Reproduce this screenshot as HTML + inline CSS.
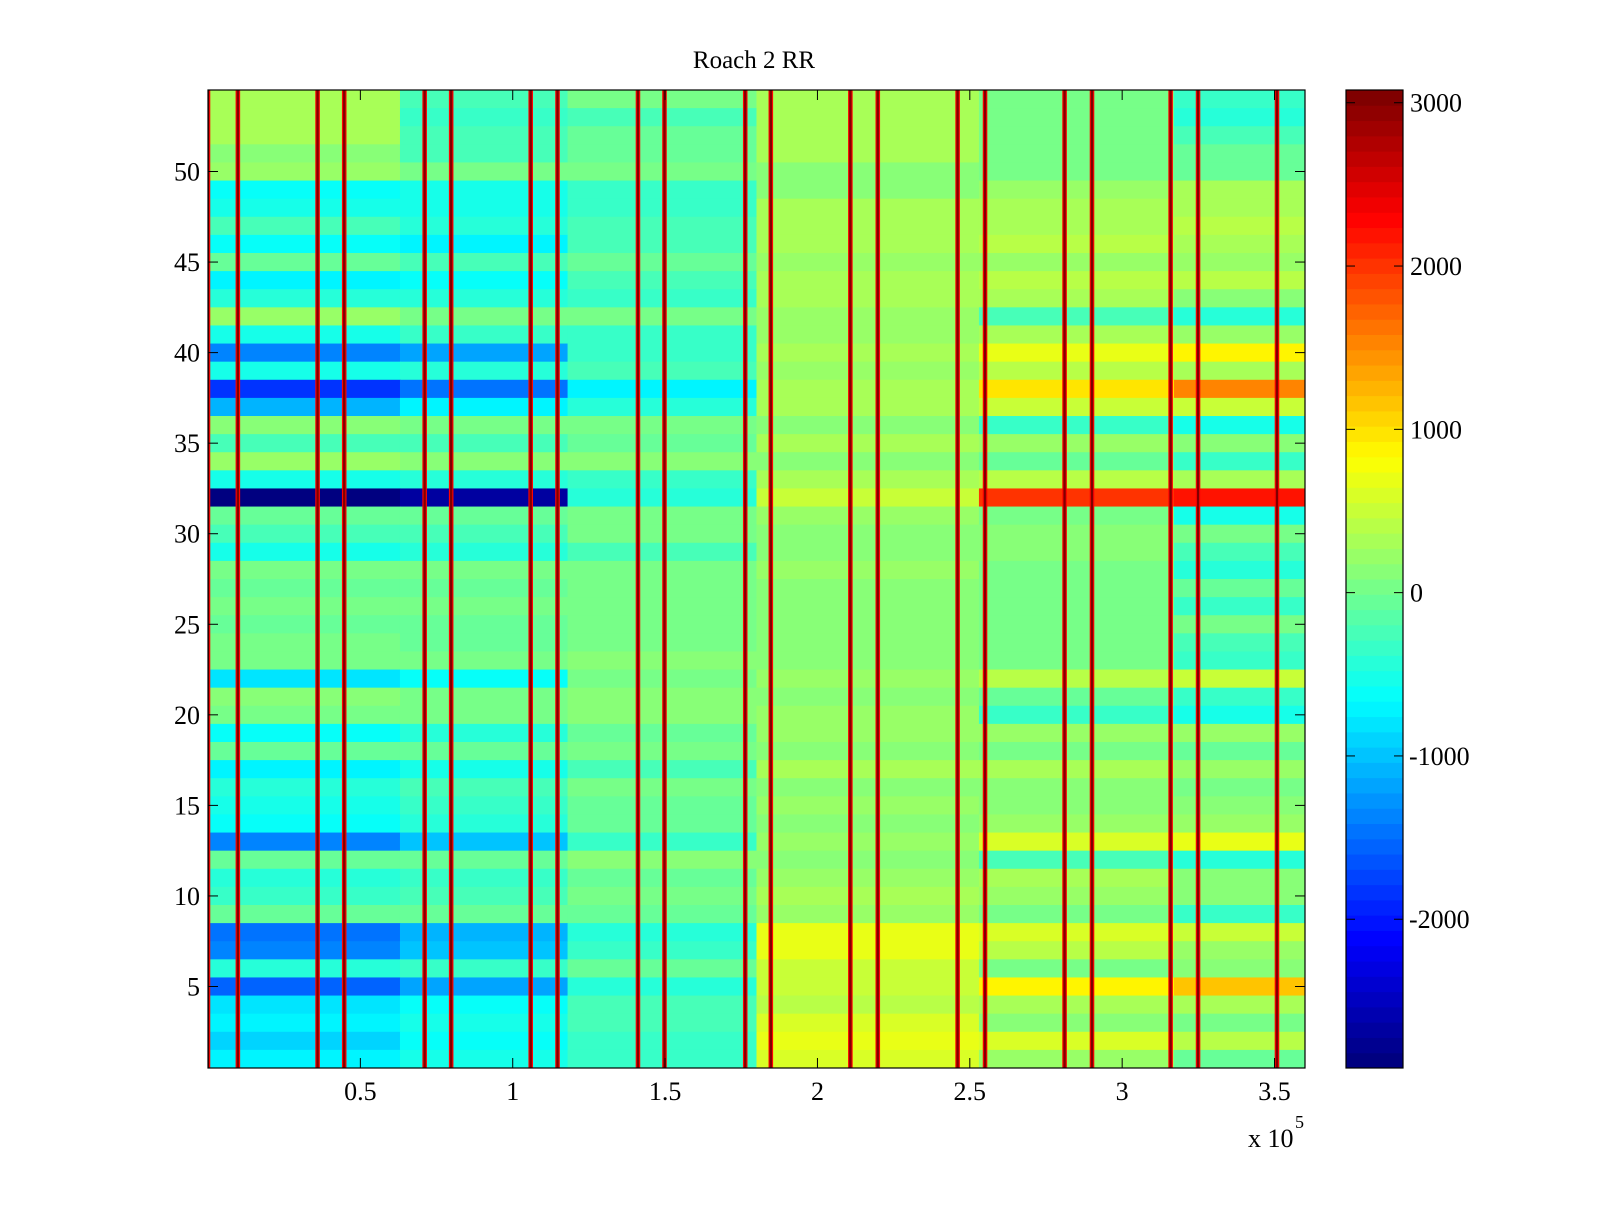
<!DOCTYPE html>
<html><head><meta charset="utf-8"><style>
html,body{margin:0;padding:0;background:#fff;}
svg text{font-family:"Liberation Serif",serif;fill:#000;}
</style></head><body>
<svg id="fig" width="1600" height="1200" xmlns="http://www.w3.org/2000/svg">
<rect width="1600" height="1200" fill="#fff"/>
<text x="754" y="68" font-size="25" text-anchor="middle">Roach 2 RR</text>
<g id="heat"></g>
<g id="spikes"></g>
<g id="axes"></g>
<g id="cbar"></g>
</svg>
<script>
// x segment boundaries (samples)
const segEdges = [0, 63000, 118000, 180000, 253000, 317000, 360000];
// row values per segment, rows 54 (top) ... 1 (bottom)
const rowValues = [
[300,-200,0,300,0,-300],
[300,-300,-200,300,0,-400],
[300,-200,-100,300,0,-200],
[100,-200,-100,300,0,-100],
[250,0,0,100,0,-100],
[-600,-500,-300,100,200,300],
[-500,-500,-300,300,300,300],
[-200,-400,-200,300,300,400],
[-600,-700,-200,300,400,300],
[-100,-200,-100,200,200,200],
[-700,-600,-200,300,400,400],
[-400,-400,-300,300,300,100],
[200,0,0,200,-200,-400],
[-500,-300,-300,200,300,200],
[-1400,-1200,-300,300,700,900],
[-500,-400,-200,200,400,300],
[-1800,-1500,-700,300,1000,1500],
[-1100,-700,-400,300,500,500],
[100,0,0,100,-300,-500],
[-200,-200,-100,300,200,100],
[200,100,100,100,-100,-300],
[-500,-400,-300,300,400,300],
[-2900,-2700,-400,500,2000,2200],
[-100,-100,0,200,0,-500],
[-200,-200,0,100,100,0],
[-500,-400,-200,100,100,-200],
[0,0,0,200,0,-400],
[-100,-100,0,100,0,-100],
[0,0,0,100,0,-300],
[-100,-100,0,100,0,0],
[0,-100,0,100,0,-200],
[0,0,100,100,0,-300],
[-800,-600,0,200,400,500],
[100,0,100,100,-100,-300],
[0,0,100,200,-300,-500],
[-600,-400,-100,200,200,200],
[-100,-100,0,100,0,-100],
[-700,-500,-200,300,300,200],
[-400,-200,0,100,100,0],
[-500,-300,-100,200,100,100],
[-600,-400,-100,100,200,200],
[-1400,-1000,-300,200,600,700],
[-100,-100,100,100,-200,-400],
[-400,-300,-100,200,300,100],
[-300,-200,0,300,200,100],
[-100,-100,-100,200,0,-300],
[-1500,-1100,-400,700,600,500],
[-1400,-1000,-300,700,400,200],
[-400,-300,-100,500,0,100],
[-1600,-1200,-400,500,900,1200],
[-800,-600,-200,400,300,300],
[-700,-500,-200,600,100,0],
[-900,-600,-300,700,600,400],
[-700,-500,-300,600,200,-100]
];
// spike columns (sample index)
const spikeX = [0,9800,35960,44700,71100,79800,105900,114700,141100,149800,176300,184700,210800,219800,246000,255000,281100,290100,315900,324900,350800];
const spikeCore = 3000, spikeEdge = 2300;
const xTicks = [50000,100000,150000,200000,250000,300000,350000];
const xTickLabels = ["0.5","1","1.5","2","2.5","3","3.5"];
const yTicks = [5,10,15,20,25,30,35,40,45,50];
const cTicks = [3000,2000,1000,0,-1000,-2000];
const cMin = -2911, cMax = 3078;

const L=208,R=1305,T=90,B=1068;
const xMin=0,xMax=360000,yMin=0.5,yMax=54.5;
const sx=v=>L+(v-xMin)/(xMax-xMin)*(R-L);
const sy=v=>B-(v-yMin)/(yMax-yMin)*(B-T);
function jet(t){
  t=Math.max(0,Math.min(1,t));
  t=Math.min(63,Math.floor(t*64))/63;
  const f=x=>Math.max(0,Math.min(1,x));
  const r=f(Math.min(4*t-1.5,-4*t+4.5)),g=f(Math.min(4*t-0.5,-4*t+3.5)),b=f(Math.min(4*t+0.5,-4*t+2.5));
  return `rgb(${Math.round(r*255)},${Math.round(g*255)},${Math.round(b*255)})`;
}
const cv=v=>jet((v-cMin)/(cMax-cMin));
const NS="http://www.w3.org/2000/svg";
function mk(tag,attrs,parent){const e=document.createElementNS(NS,tag);for(const k in attrs)e.setAttribute(k,attrs[k]);parent.appendChild(e);return e;}

const heat=document.getElementById('heat');
rowValues.forEach((vals,i)=>{
  const row=54-i;
  vals.forEach((v,s)=>{
    const x0=sx(segEdges[s]),x1=sx(segEdges[s+1]);
    const el=mk('rect',{x:x0,y:sy(row+0.5),width:x1-x0+0.5,height:sy(row-0.5)-sy(row+0.5)+0.5,fill:cv(v)},heat);
    
    
  });
});
const sp=document.getElementById('spikes');
spikeX.forEach(x=>{
  const a=Math.max(L,sx(x-750)),b=Math.min(R,sx(x+750));
  const e1=mk('rect',{x:a,y:T,width:b-a,height:B-T,fill:cv(spikeEdge)},sp);
  
  
  const c=Math.max(L,sx(x-380)),d=Math.min(R,sx(x+380));
  const e2=mk('rect',{x:c,y:T,width:d-c,height:B-T,fill:cv(spikeCore)},sp);
  
  
});
const ax=document.getElementById('axes');
mk('rect',{x:L,y:T,width:R-L,height:B-T,fill:'none',stroke:'#000','stroke-width':1.2},ax);
xTicks.forEach((v,i)=>{
  const x=sx(v);
  mk('line',{x1:x,y1:B,x2:x,y2:B-10,stroke:'#000'},ax);
  mk('line',{x1:x,y1:T,x2:x,y2:T+10,stroke:'#000'},ax);
  const t=mk('text',{x:x,y:1100,'font-size':26,'text-anchor':'middle'},ax);
  t.textContent=xTickLabels[i];
  
  
});
yTicks.forEach(v=>{
  const y=sy(v);
  mk('line',{x1:L,y1:y,x2:L+10,y2:y,stroke:'#000'},ax);
  mk('line',{x1:R,y1:y,x2:R-10,y2:y,stroke:'#000'},ax);
  const t=mk('text',{x:200,y:y+9,'font-size':26,'text-anchor':'end'},ax);
  t.textContent=String(v);
  
  
});
const xm=mk('text',{x:1248,y:1147,'font-size':26},ax);
xm.textContent='x 10';


const xe=mk('text',{x:1295,y:1128,'font-size':18},ax);
xe.textContent='5';



const cb=document.getElementById('cbar');
const CL=1346,CR=1403;
const cy=v=>B-(v-cMin)/(cMax-cMin)*(B-T);
for(let k=0;k<64;k++){
  const y0=B-(k+1)/64*(B-T),h=(B-T)/64;
  const el=mk('rect',{x:CL,y:y0,width:CR-CL,height:h+0.5,fill:jet((k+0.5)/64)},cb);
  
  
}
mk('rect',{x:CL,y:T,width:CR-CL,height:B-T,fill:'none',stroke:'#000','stroke-width':1.2},cb);
cTicks.forEach(v=>{
  const y=cy(v);
  mk('line',{x1:CL,y1:y,x2:CL+9,y2:y,stroke:'#000'},cb);
  mk('line',{x1:CR,y1:y,x2:CR-9,y2:y,stroke:'#000'},cb);
  const t=mk('text',{x:v<0?1409:1410,y:y+9,'font-size':26},cb);
  t.textContent=String(v);
  
  
});
</script>
</body></html>
